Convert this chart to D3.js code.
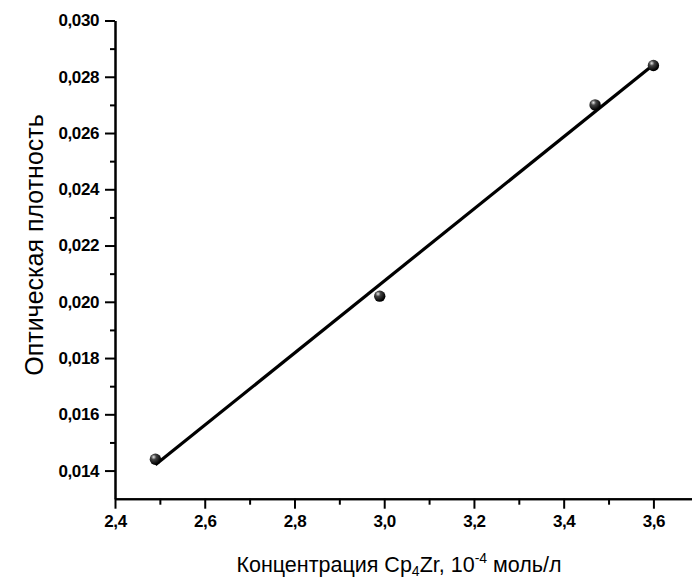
<!DOCTYPE html>
<html>
<head>
<meta charset="utf-8">
<script src="https://cdn.jsdelivr.net/npm/d3@7"></script>
<style>
  body { margin: 0; background: #fff; }
  svg { display: block; }
  .tick text { font-family: "Liberation Sans", Arial, sans-serif; font-weight: bold; font-size: 17px; letter-spacing: -0.4px; fill: #000; }
  .axis path, .axis line { stroke: #000; stroke-width: 2px; }
  .lbl { font-family: "Liberation Sans", Arial, sans-serif; fill: #000; }
</style>
</head>
<body>
<svg id="chart" width="692" height="580"></svg>
<script>
// concentration, 10^-4 mol/l
var conc = [2.49, 2.99, 3.47, 3.60];
// optical density
var density = [0.0144, 0.0202, 0.0270, 0.0284];

var xMajor = [2.4, 2.6, 2.8, 3.0, 3.2, 3.4, 3.6];
var xMinor = [2.5, 2.7, 2.9, 3.1, 3.3, 3.5];
var yMajor = [0.014, 0.016, 0.018, 0.020, 0.022, 0.024, 0.026, 0.028, 0.030];
var yMinor = [0.015, 0.017, 0.019, 0.021, 0.023, 0.025, 0.027, 0.029];

var mLeft = 115, mTop = 20.5, mBottom = 498.7, mRight = 692;

var svg = d3.select("#chart");

var x = d3.scaleLinear().domain([2.4, 3.686]).range([mLeft, mRight]);
var y = d3.scaleLinear().domain([0.013, 0.030]).range([mBottom, mTop]);

var comma = function(fmt) {
    return function(d) { return d3.format(fmt)(d).replace(".", ","); };
};

// minor ticks first
svg.append("g").attr("class", "axis")
    .attr("transform", "translate(0," + mBottom + ")")
    .call(d3.axisBottom(x).tickValues(xMinor).tickSize(6).tickSizeOuter(0).tickFormat(""));
svg.append("g").attr("class", "axis")
    .attr("transform", "translate(" + mLeft + ",0)")
    .call(d3.axisLeft(y).tickValues(yMinor).tickSize(5).tickSizeOuter(0).tickFormat(""));

svg.append("g").attr("class", "axis")
    .attr("transform", "translate(0," + mBottom + ")")
    .call(d3.axisBottom(x).tickValues(xMajor).tickSize(10).tickSizeOuter(0).tickPadding(6).tickFormat(comma(".1f")));

svg.append("g").attr("class", "axis")
    .attr("transform", "translate(" + mLeft + ",0)")
    .call(d3.axisLeft(y).tickValues(yMajor).tickSize(10).tickSizeOuter(0).tickPadding(6).tickFormat(comma(".3f")));

// least squares line
var mx = d3.mean(conc), my = d3.mean(density);
var sxy = d3.sum(conc, function(v, i) { return (v - mx) * (density[i] - my); });
var sxx = d3.sum(conc, function(v) { return (v - mx) * (v - mx); });
var slope = sxy / sxx, icpt = my - slope * mx;
var x0 = d3.min(conc), x1 = d3.max(conc);

svg.append("line")
    .attr("x1", x(x0)).attr("y1", y(icpt + slope * x0))
    .attr("x2", x(x1)).attr("y2", y(icpt + slope * x1))
    .attr("stroke", "#000").attr("stroke-width", 3.2);

// sphere-like markers
var grad = svg.append("defs").append("radialGradient")
    .attr("id", "ball").attr("cx", "35%").attr("cy", "30%").attr("r", "65%");
grad.append("stop").attr("offset", "0%").attr("stop-color", "#e8e8e8");
grad.append("stop").attr("offset", "35%").attr("stop-color", "#444");
grad.append("stop").attr("offset", "100%").attr("stop-color", "#000");

svg.selectAll(".pt")
    .data(conc)
    .enter().append("circle")
    .attr("class", "pt")
    .attr("cx", function(d) { return x(d); })
    .attr("cy", function(d, i) { return y(density[i]); })
    .attr("r", 5.7)
    .attr("fill", "url(#ball)");

// axis titles
var xl = svg.append("text").attr("class", "lbl")
    .attr("font-size", "21.5px")
    .attr("x", 399).attr("y", 572).attr("text-anchor", "middle");
xl.append("tspan").text("Концентрация Cp");
xl.append("tspan").attr("font-size", "14px").attr("dy", 4).text("4");
xl.append("tspan").attr("dy", -4).text("Zr, 10");
xl.append("tspan").attr("font-size", "14px").attr("dy", -9).text("-4");
xl.append("tspan").attr("dy", 9).text(" моль/л");

svg.append("text").attr("class", "lbl")
    .attr("font-size", "25px")
    .attr("transform", "translate(43,245) rotate(-90)")
    .attr("text-anchor", "middle")
    .text("Оптическая плотность");
</script>
</body>
</html>
